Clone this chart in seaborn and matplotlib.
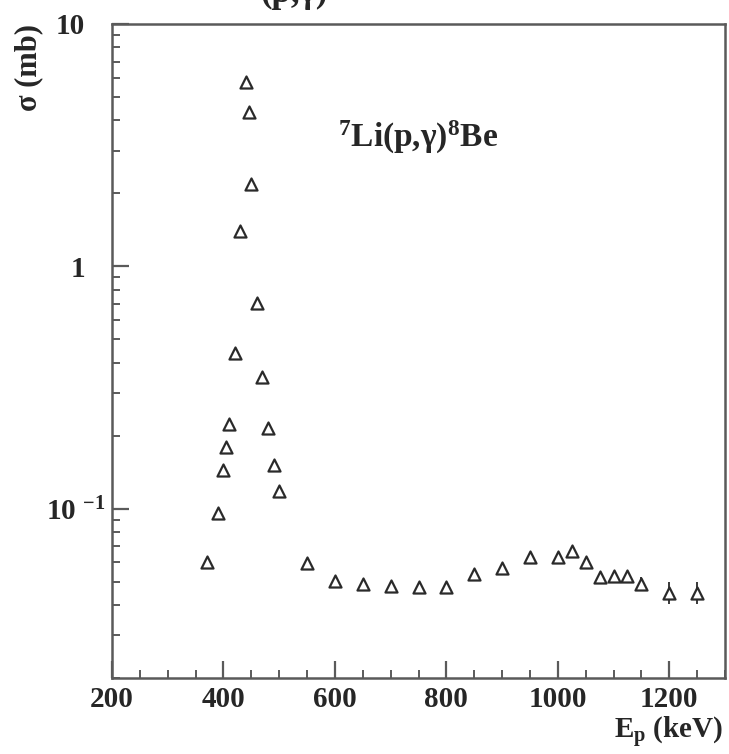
import numpy as np
import pandas as pd
import matplotlib
matplotlib.use("Agg")
import matplotlib.pyplot as plt
import seaborn as sns
from matplotlib.ticker import FixedLocator, LogLocator, MultipleLocator, NullFormatter

# Proton energy (keV) and capture cross section (mb)
energy = [370, 390, 400, 405, 410, 420, 430, 440, 445, 450, 460, 470, 480, 490, 500,
          550, 600, 650, 700, 750, 800, 850, 900, 950, 1000, 1025, 1050, 1075, 1100,
          1125, 1150, 1200, 1250]
sigma = [0.060, 0.096, 0.145, 0.179, 0.224, 0.437, 1.40, 5.76, 4.33, 2.18, 0.703, 0.348,
         0.216, 0.152, 0.118, 0.0598, 0.0503, 0.049, 0.048, 0.0477, 0.0477, 0.0538,
         0.057, 0.0634, 0.0634, 0.067, 0.060, 0.0524, 0.0525, 0.0525, 0.049, 0.045, 0.045]
sigma_err = [0.003, 0.0, 0.0, 0.0, 0.0, 0.0, 0.0, 0.0, 0.0, 0.0, 0.0, 0.0,
             0.0, 0.0, 0.0, 0.0, 0.0, 0.0, 0.0, 0.0, 0.0, 0.0,
             0.0, 0.0, 0.0, 0.0, 0.0, 0.0025, 0.0025, 0.0025, 0.003, 0.0047, 0.0047]

y_ticks = [0.1, 1, 10]
y_ticklabels = [r"10 $^{\mathbf{-1}}$", "1", "10"]
x_ticks = [200, 400, 600, 800, 1000, 1200]

df = pd.DataFrame({"E": energy, "sigma": sigma, "err": sigma_err})

sns.set_theme(style="white")
plt.rcParams["font.family"] = ["Liberation Serif", "DejaVu Serif"]
plt.rcParams["font.weight"] = "bold"
plt.rcParams["mathtext.fontset"] = "custom"
plt.rcParams["mathtext.rm"] = "Liberation Serif:bold"
plt.rcParams["mathtext.bf"] = "Liberation Serif:bold"
plt.rcParams["mathtext.it"] = "Liberation Serif:italic:bold"

fig = plt.figure(figsize=(7.29, 7.54), dpi=100)
ax = fig.add_axes([112 / 729, 1 - 678 / 754, 613 / 729, 654 / 754])

ink = "#2a2a2a"
ax.errorbar(df["E"], df["sigma"], yerr=df["err"], fmt="none", ecolor=ink,
            elinewidth=1.3, capsize=0, zorder=2)
sns.scatterplot(data=df, x="E", y="sigma", ax=ax, marker="^", s=75,
                facecolor="white", edgecolor=ink, linewidth=1.6, zorder=3,
                legend=False)

ax.set_yscale("log")
ax.set_xlim(200, 1300)
ax.set_ylim(0.02, 10)

for side in ["left", "bottom", "top", "right"]:
    ax.spines[side].set_color("#5a5a5a")
    ax.spines[side].set_linewidth(1.8)

ax.xaxis.set_major_locator(FixedLocator(x_ticks))
ax.xaxis.set_minor_locator(MultipleLocator(50))
ax.yaxis.set_major_locator(FixedLocator(y_ticks))
ax.yaxis.set_minor_locator(LogLocator(base=10, subs=np.arange(2, 10)))
ax.yaxis.set_minor_formatter(NullFormatter())
ax.set_yticklabels(y_ticklabels)
ax.set_xticklabels([str(v) for v in x_ticks])

ax.tick_params(axis="both", which="major", direction="in", length=12, width=1.6,
               color="#5a5a5a", labelsize=21, bottom=True, left=True,
               top=False, right=False)
ax.tick_params(axis="both", which="minor", direction="in", length=6, width=1.4,
               color="#5a5a5a", bottom=True, left=True, top=False, right=False)
ax.tick_params(axis="x", which="major", pad=6)
ax.tick_params(axis="y", which="major", pad=19.5)
yt = ax.yaxis.get_major_ticks()
yt[0].set_pad(5)

ax.set_xlabel(r"E$_{\mathbf{p}}$ (keV)", fontsize=21, fontweight="bold", loc="right")
ax.xaxis.set_label_coords(0.997, -0.056)
ax.set_ylabel("σ (mb)", fontsize=22, fontweight="bold", loc="top")
ax.yaxis.set_label_coords(-0.113, 1.0)

ax.text(0.3687, 0.812, r"$^{7}$Li(p,γ)$^{8}$Be", transform=ax.transAxes,
        fontsize=24, fontweight="bold", ha="left", va="baseline")

fig.text(294 / 729, 1 - 2 / 754, "(p,γ)", fontsize=25, fontweight="bold",
         ha="center", va="baseline")

fig.savefig("out.png", dpi=100, facecolor="white")
